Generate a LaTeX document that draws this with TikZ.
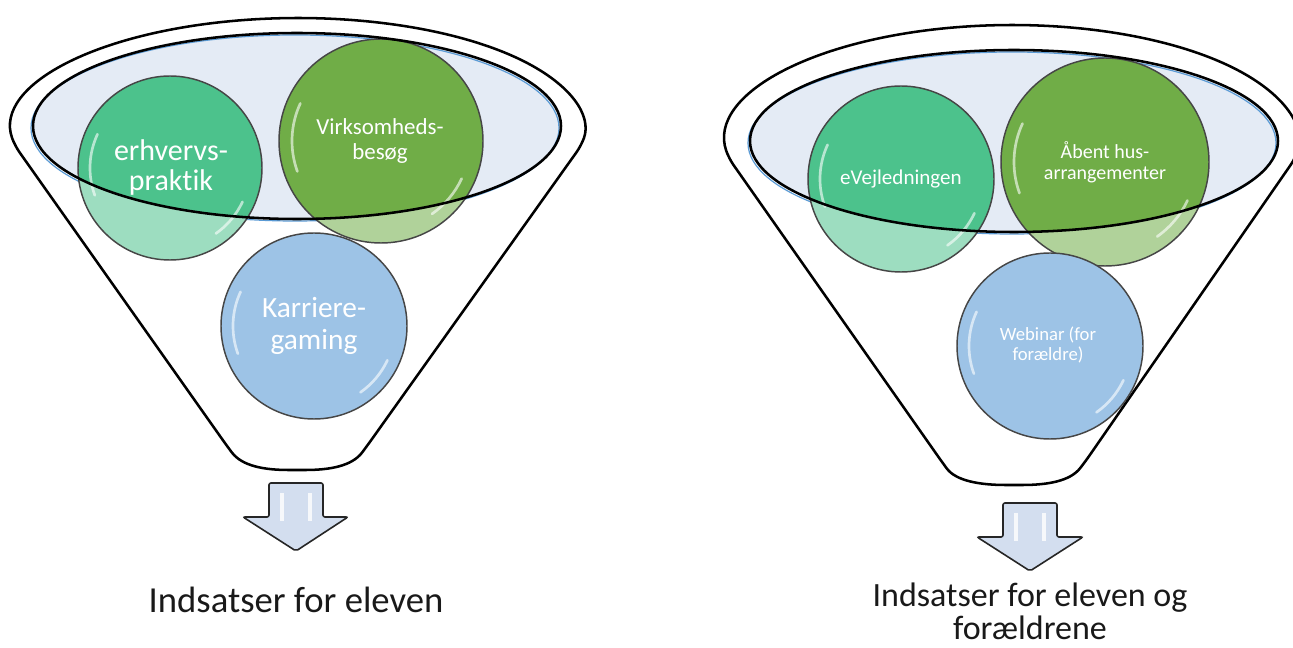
\documentclass[tikz,border=0pt]{standalone}
\usepackage{fontspec}
\setmainfont{Carlito}[Ligatures=NoCommon]

\definecolor{tealball}{RGB}{76,194,140}
\definecolor{leafball}{RGB}{112,173,71}
\definecolor{skyball}{RGB}{157,195,230}
\definecolor{rimfill}{RGB}{228,235,245}
\definecolor{rimblue}{RGB}{91,155,213}
\definecolor{ballgray}{RGB}{70,70,70}
\definecolor{arrowfill}{RGB}{211,222,239}

\tikzset{every picture/.style={line width=0.75pt}}
\tikzset{
  funnel/.style={draw=black, line width=1.9pt, fill=white, rounded corners=6},
  rim/.style={draw=black, line width=1.9pt},
  rimshade/.style={draw=rimblue, line width=0.9pt},
  ball/.style={draw=ballgray, line width=1.1pt},
  gloss/.style={draw=white, line width=2pt, line cap=round, opacity=0.6},
  balltext/.style={text=white, align=center, inner sep=0.75pt},
  downarrow/.style={draw=black!85, fill=arrowfill, line width=1.2pt, rounded corners=1.5},
  shine/.style={draw=white, line width=2.5pt, opacity=0.8},
  caption/.style={text=black!90, align=center, inner sep=0pt}
}

\begin{document}
\begin{tikzpicture}[x=0.75pt,y=0.75pt,yscale=-1,xscale=1]
\useasboundingbox (0,0) rectangle (1293,648);

%%%%%%%%%% left funnel
%Shape: Funnel body
\draw[funnel] (14.8,145.6) arc[start angle=172, end angle=368, x radius=286, y radius=112] -- (367,446) .. controls (352,466) and (330,470) .. (297,470) .. controls (264,470) and (242,466) .. (227,446) -- cycle;
%Shape: Rim
\fill[rimfill] (297,126) ellipse [x radius=264, y radius=93];
\draw[rimshade] (295,128) ellipse [x radius=264, y radius=93];

%Shape: Balls in the rim
\fill[tealball!55!white] (170,168) circle [radius=92];
\fill[leafball!55!white] (381,141) circle [radius=102];
\begin{scope}
  \clip (297,126) ellipse [x radius=264, y radius=93];
  \fill[tealball] (170,168) circle [radius=92];
  \fill[leafball] (381,141) circle [radius=102];
\end{scope}
\draw[ball] (170,168) circle [radius=92];
\draw[ball] (381,141) circle [radius=102];
\draw[gloss] (170,168) ++(205:80) arc[start angle=205, end angle=160, radius=80];
\draw[gloss] (170,168) ++(25:80) arc[start angle=25, end angle=55, radius=80];
\draw[gloss] (381,141) ++(205:89) arc[start angle=205, end angle=160, radius=89];
\draw[gloss] (381,141) ++(25:89) arc[start angle=25, end angle=55, radius=89];
\draw[rim] (297,126) ellipse [x radius=264, y radius=93];

%Shape: Ball below
\draw[ball, fill=skyball] (314,326) circle [radius=93];
\draw[gloss] (314,326) ++(205:81) arc[start angle=205, end angle=160, radius=81];
\draw[gloss] (314,326) ++(25:81) arc[start angle=25, end angle=55, radius=81];

% Text Node
\node[balltext, font=\fontsize{22.5}{22.5}\selectfont] (praktik) at (171,168) {erhvervs-\\praktik};
% Text Node
\node[balltext, font=\fontsize{17.2}{18.75}\selectfont] (besoeg) at (380,141) {Virksomheds-\\besøg};
% Text Node
\node[balltext, font=\fontsize{22}{24}\selectfont] (gaming) at (314,326) {Karriere-\\gaming};

%Shape: Arrow
\draw[downarrow] (269,483) -- (323,483) -- (323,517) -- (348,517) -- (296,551) -- (243,517) -- (269,517) -- cycle;
\draw[shine] (282,493) -- (282,521);
\draw[shine] (310,493) -- (310,521);

% Text Node
\node[caption, font=\fontsize{27.5}{30}\selectfont] (eleven) at (296,600) {Indsatser for eleven};

%%%%%%%%%% right funnel
%Shape: Funnel body
\draw[funnel] (728.8,158.3) arc[start angle=172, end angle=368, x radius=286, y radius=117] -- (1085,462) .. controls (1070,481) and (1048,485) .. (1014,485) .. controls (980,485) and (956,481) .. (942,462) -- cycle;
%Shape: Rim
\fill[rimfill] (1014,141) ellipse [x radius=264, y radius=91];
\draw[rimshade] (1012,143) ellipse [x radius=264, y radius=91];

%Shape: Balls in the rim
\fill[tealball!55!white] (901,179) circle [radius=93];
\fill[leafball!55!white] (1105,162) circle [radius=104];
\begin{scope}
  \clip (1014,141) ellipse [x radius=264, y radius=91];
  \fill[tealball] (901,179) circle [radius=93];
  \fill[leafball] (1105,162) circle [radius=104];
\end{scope}
\draw[ball] (901,179) circle [radius=93];
\draw[ball] (1105,162) circle [radius=104];
\draw[gloss] (901,179) ++(205:81) arc[start angle=205, end angle=160, radius=81];
\draw[gloss] (901,179) ++(25:81) arc[start angle=25, end angle=55, radius=81];
\draw[gloss] (1105,162) ++(205:91) arc[start angle=205, end angle=160, radius=91];
\draw[gloss] (1105,162) ++(25:91) arc[start angle=25, end angle=55, radius=91];
\draw[rim] (1014,141) ellipse [x radius=264, y radius=91];

%Shape: Ball below
\draw[ball, fill=skyball] (1050,346) circle [radius=93];
\draw[gloss] (1050,346) ++(205:81) arc[start angle=205, end angle=160, radius=81];
\draw[gloss] (1050,346) ++(25:81) arc[start angle=25, end angle=55, radius=81];

% Text Node
\node[balltext, font=\fontsize{15.8}{16}\selectfont] (evejl) at (901,179) {eVejledningen};
% Text Node
\node[balltext, font=\fontsize{15}{15.75}\selectfont] (aabent) at (1105,162) {Åbent hus-\\arrangementer};
% Text Node
\node[balltext, font=\fontsize{14}{15}\selectfont] (webinar) at (1048,345) {Webinar (for\\forældre)};

%Shape: Arrow
\draw[downarrow] (1003,503) -- (1057,503) -- (1057,537) -- (1083,537) -- (1030,571) -- (977,537) -- (1003,537) -- cycle;
\draw[shine] (1016,513) -- (1016,541);
\draw[shine] (1044,513) -- (1044,541);

% Text Node
\node[caption, font=\fontsize{25.5}{24.5}\selectfont] (foraeldre) at (1030,611) {Indsatser for eleven og\\forældrene};

\end{tikzpicture}
\end{document}
